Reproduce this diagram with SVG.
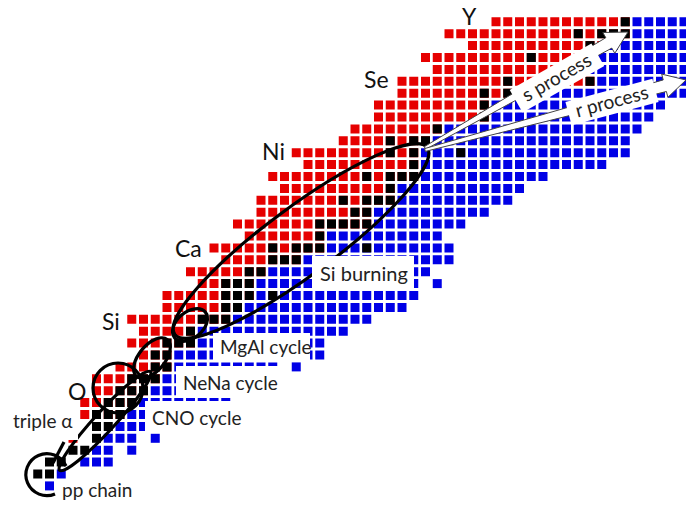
<svg xmlns="http://www.w3.org/2000/svg" width="686" height="507" viewBox="0 0 686 507">
<style>
.r{stroke:#e60000;stroke-width:9;stroke-dasharray:9 2.75;fill:none}
.b{stroke:#0000e6;stroke-width:9;stroke-dasharray:9 2.75;fill:none}
.k{stroke:#000;stroke-width:9;stroke-dasharray:9 2.75;fill:none}
.loop{fill:none;stroke:#000;stroke-width:3.2}
.box{fill:#fff}
.lab{font-family:Lato,"DejaVu Sans",sans-serif;font-size:19px;fill:#222}
.el{font-family:Lato,"DejaVu Sans",sans-serif;font-size:23px;fill:#111}
.arr{fill:#fff;stroke:#444;stroke-width:1}
</style>
<rect width="686" height="507" fill="#fff"/>
<g id="chart">
<path class="r" d="M491.5 21.8h138.25"/><path class="b" d="M632.5 21.8h56"/><path class="k" d="M620.75 21.8h9"/>
<path class="r" d="M444.5 33.7h185.25"/><path class="b" d="M632.5 33.7h56"/><path class="k" d="M573.75 33.7h9"/><path class="k" d="M597.25 33.7h32.5"/>
<path class="r" d="M468 45.6h138.25"/><path class="b" d="M609 45.6h79.5"/><path class="k" d="M585.5 45.6h9"/>
<path class="r" d="M421 57.5h173.5"/><path class="b" d="M597.25 57.5h91.25"/><path class="k" d="M526.75 57.5h9"/>
<path class="r" d="M432.75 69.4h150"/><path class="b" d="M585.5 69.4h103"/><path class="k" d="M573.75 69.4h9"/>
<path class="r" d="M397.5 81.3h197"/><path class="b" d="M597.25 81.3h91.25"/><path class="k" d="M503.25 81.3h9"/><path class="k" d="M585.5 81.3h9"/>
<path class="r" d="M397.5 93.2h138.25"/><path class="b" d="M538.5 93.2h150"/><path class="k" d="M479.75 93.2h9"/><path class="k" d="M503.25 93.2h9"/>
<path class="r" d="M374 105.1h114.75"/><path class="b" d="M491.5 105.1h173.5"/><path class="k" d="M479.75 105.1h9"/>
<path class="r" d="M374 117h114.75"/><path class="b" d="M491.5 117h161.75"/><path class="k" d="M479.75 117h9"/>
<path class="r" d="M350.5 128.9h91.25"/><path class="b" d="M444.5 128.9h197"/><path class="k" d="M432.75 128.9h9"/>
<path class="r" d="M338.75 140.8h91.25"/><path class="b" d="M432.75 140.8h197"/><path class="k" d="M385.75 140.8h9"/><path class="k" d="M409.25 140.8h20.75"/>
<path class="r" d="M291.75 152.7h126.5"/><path class="b" d="M421 152.7h208.75"/><path class="k" d="M385.75 152.7h9"/><path class="k" d="M409.25 152.7h9"/><path class="k" d="M456.25 152.7h9"/>
<path class="r" d="M303.5 164.6h114.75"/><path class="b" d="M421 164.6h185.25"/><path class="k" d="M409.25 164.6h9"/>
<path class="r" d="M268.25 176.5h150"/><path class="b" d="M421 176.5h126.5"/><path class="k" d="M362.25 176.5h9"/><path class="k" d="M385.75 176.5h32.5"/>
<path class="r" d="M280 188.4h114.75"/><path class="b" d="M397.5 188.4h126.5"/><path class="k" d="M385.75 188.4h9"/>
<path class="r" d="M256.5 200.3h138.25"/><path class="b" d="M397.5 200.3h114.75"/><path class="k" d="M338.75 200.3h9"/><path class="k" d="M362.25 200.3h32.5"/>
<path class="r" d="M256.5 212.2h114.75"/><path class="b" d="M374 212.2h114.75"/><path class="k" d="M350.5 212.2h20.75"/>
<path class="r" d="M233 224.1h138.25"/><path class="b" d="M374 224.1h91.25"/><path class="k" d="M315.25 224.1h56"/>
<path class="r" d="M244.75 236h79.5"/><path class="b" d="M327 236h114.75"/><path class="k" d="M315.25 236h9"/>
<path class="r" d="M209.5 247.9h114.75"/><path class="b" d="M327 247.9h126.5"/><path class="k" d="M268.25 247.9h9"/><path class="k" d="M291.75 247.9h32.5"/><path class="k" d="M362.25 247.9h9"/>
<path class="r" d="M221.25 259.8h79.5"/><path class="b" d="M303.5 259.8h150"/><path class="k" d="M268.25 259.8h32.5"/>
<path class="r" d="M186 271.7h79.5"/><path class="b" d="M268.25 271.7h161.75"/><path class="k" d="M244.75 271.7h20.75"/>
<path class="r" d="M197.75 283.6h56"/><path class="b" d="M256.5 283.6h161.75"/><path class="b" d="M432.75 283.6h9"/><path class="k" d="M221.25 283.6h32.5"/>
<path class="r" d="M162.5 295.5h91.25"/><path class="b" d="M256.5 295.5h161.75"/><path class="k" d="M221.25 295.5h32.5"/><path class="k" d="M268.25 295.5h9"/>
<path class="r" d="M162.5 307.4h79.5"/><path class="b" d="M244.75 307.4h161.75"/><path class="k" d="M221.25 307.4h20.75"/>
<path class="r" d="M127.25 319.3h103"/><path class="b" d="M233 319.3h138.25"/><path class="k" d="M197.75 319.3h32.5"/>
<path class="r" d="M139 331.2h56"/><path class="b" d="M197.75 331.2h150"/><path class="k" d="M186 331.2h9"/>
<path class="r" d="M127.25 343.1h67.75"/><path class="b" d="M197.75 343.1h126.5"/><path class="k" d="M162.5 343.1h32.5"/>
<path class="r" d="M139 355h32.5"/><path class="b" d="M174.25 355h150"/><path class="k" d="M150.75 355h20.75"/>
<path class="r" d="M115.5 366.9h56"/><path class="b" d="M174.25 366.9h103"/><path class="b" d="M291.75 366.9h9"/><path class="k" d="M150.75 366.9h20.75"/>
<path class="r" d="M92 378.8h67.75"/><path class="b" d="M162.5 378.8h114.75"/><path class="k" d="M127.25 378.8h32.5"/>
<path class="r" d="M92 390.7h56"/><path class="b" d="M150.75 390.7h79.5"/><path class="k" d="M115.5 390.7h32.5"/>
<path class="r" d="M80.25 402.6h56"/><path class="b" d="M139 402.6h91.25"/><path class="k" d="M103.75 402.6h32.5"/>
<path class="r" d="M80.25 414.5h44.25"/><path class="b" d="M127.25 414.5h32.5"/><path class="k" d="M92 414.5h32.5"/>
<path class="b" d="M115.5 426.4h44.25"/><path class="k" d="M92 426.4h20.75"/>
<path class="r" d="M68.5 438.3h9"/><path class="b" d="M103.75 438.3h32.5"/><path class="b" d="M150.75 438.3h9"/><path class="k" d="M92 438.3h9"/>
<path class="b" d="M92 450.2h20.75"/><path class="b" d="M127.25 450.2h9"/><path class="k" d="M68.5 450.2h20.75"/>
<path class="b" d="M80.25 462.1h32.5"/><path class="k" d="M45 462.1h20.75"/>
<path class="b" d="M56.75 474h9"/><path class="k" d="M33.25 474h20.75"/>
<path class="b" d="M45 485.9h9"/>
</g>
<g id="connectors">
<ellipse class="loop" cx="301" cy="241" rx="157" ry="34" transform="rotate(-36.5 301 241)"/>
<ellipse class="loop" cx="190" cy="325" rx="20" ry="13" transform="rotate(-40 190 325)"/>
<ellipse class="loop" cx="152" cy="358" rx="24" ry="13" transform="rotate(-50 152 358)"/>
<circle class="loop" cx="118" cy="388" r="25"/>
<ellipse class="loop" cx="105" cy="421" rx="67" ry="10" transform="rotate(-47.4 105 421)"/>
<path class="loop" d="M53 463 L64 442"/>
<path class="loop" d="M55 494 A21 21 0 1 1 66 466"/>
<polygon class="arr" points="425.7,149.3 611.8,48.1 614.8,53.3 628,32 602.8,32.5 605.8,37.7 424.3,146.7"/>
<polygon class="arr" points="425.4,151.4 666.4,91.5 667.9,97.3 686,80 661.7,74.1 663.2,79.9 424.6,148.6"/>
</g>
<g id="label-s"><rect class="box" x="-47" y="-13" width="94" height="26" transform="translate(557 78) rotate(-29.7)"/><text class="lab" transform="translate(557 78) rotate(-29.7)" text-anchor="middle" y="6">s process</text></g>
<g id="label-r"><rect class="box" x="-45" y="-12" width="90" height="24" transform="translate(612 102) rotate(-15)"/><text class="lab" transform="translate(612 102) rotate(-15)" text-anchor="middle" y="6">r process</text></g>
<g id="label-si"><rect class="box" x="312" y="256" width="102" height="33"/><text class="lab" x="320" y="281" style="font-size:20px">Si burning</text></g>
<g id="label-mgal"><rect class="box" x="213" y="333" width="97" height="29"/><text class="lab" x="220" y="354">MgAl cycle</text></g>
<g id="label-nena"><rect class="box" x="176" y="366" width="104" height="32"/><text class="lab" x="183" y="390">NeNa cycle</text></g>
<g id="label-cno"><rect class="box" x="145" y="401" width="95" height="31"/><text class="lab" x="152" y="425">CNO cycle</text></g>
<g id="label-3a"><rect class="box" x="8" y="406" width="70" height="34"/><text class="lab" x="13" y="428">triple α</text></g>
<g id="label-pp"><text class="lab" x="62" y="497">pp chain</text></g>
<g id="elements">
<text class="el" x="462" y="25">Y</text>
<text class="el" x="364" y="88">Se</text>
<text class="el" x="262" y="160">Ni</text>
<text class="el" x="175" y="257">Ca</text>
<text class="el" x="102" y="330">Si</text>
<text class="el" x="68" y="400">O</text>
</g>
</svg>
